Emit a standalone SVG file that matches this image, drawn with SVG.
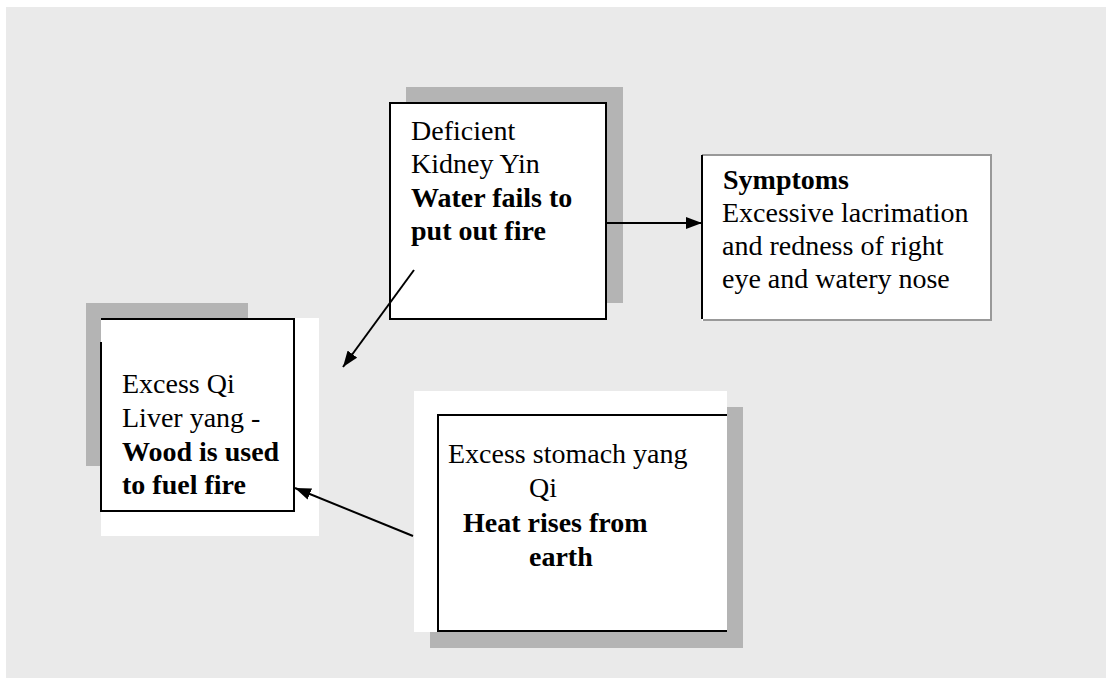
<svg xmlns="http://www.w3.org/2000/svg" width="1106" height="678" viewBox="0 0 1106 678">
<defs>
<style>
.t{font-family:"Liberation Serif","Times New Roman",serif;font-size:28px;fill:#000}
.b{font-weight:bold}
.sh{fill:#b4b4b4}
.wh{fill:#fff}
.ln{stroke:#000;stroke-width:2;fill:none}
.bx{stroke:#000;stroke-width:2;fill:#fff}
.conn{stroke:#000;stroke-width:2;fill:none}
</style>
<marker id="ah" viewBox="0 0 16 12" refX="16" refY="6" markerWidth="16" markerHeight="12" markerUnits="userSpaceOnUse" orient="auto">
<path d="M0,0 L16,6 L0,12 z" fill="#000"/>
</marker>
</defs>
<rect x="0" y="0" width="1106" height="678" fill="#fff"/>
<rect x="6" y="7" width="1100" height="671" fill="#eaeaea"/>

<g id="deficient">
<rect class="sh" x="406" y="87" width="217" height="216"/>
<rect class="bx" x="390" y="103" width="216" height="216"/>
<text class="t" x="411" y="140">Deficient</text>
<text class="t" x="411" y="173">Kidney Yin</text>
<text class="t b" x="411" y="207">Water fails to</text>
<text class="t b" x="411" y="240">put out fire</text>
</g>

<g id="symptoms">
<rect class="wh" x="702" y="155" width="290" height="166"/>
<path d="M702,155 H991 V320 H703" stroke="#999" stroke-width="2" fill="none"/>
<path d="M702,155 V319" class="ln"/>
<text class="t b" x="723" y="189">Symptoms</text>
<text class="t" x="722" y="222">Excessive lacrimation</text>
<text class="t" x="722" y="255">and redness of right</text>
<text class="t" x="722" y="288">eye and watery nose</text>
</g>

<g id="liver">
<rect class="sh" x="86" y="303" width="162" height="163"/>
<rect class="wh" x="101" y="318" width="218" height="218"/>
<path d="M101,319 H294 V511 H101 V342" class="ln"/>
<text class="t" x="122" y="393">Excess Qi</text>
<text class="t" x="122" y="427">Liver yang -</text>
<text class="t b" x="122" y="461">Wood is used</text>
<text class="t b" x="122" y="494">to fuel fire</text>
</g>

<g id="stomach">
<rect class="wh" x="414" y="391" width="313" height="241"/>
<rect class="sh" x="727" y="407" width="16" height="241"/>
<rect class="sh" x="430" y="632" width="297" height="16"/>
<path d="M727,415 H438 V631 H727" class="ln"/>
<text class="t" x="448" y="463">Excess stomach yang</text>
<text class="t" x="529" y="497">Qi</text>
<text class="t b" x="463" y="532">Heat rises from</text>
<text class="t b" x="529" y="566">earth</text>
</g>

<g id="connectors">
<line class="conn" x1="606" y1="223" x2="702" y2="223" marker-end="url(#ah)"/>
<line class="conn" x1="414" y1="270" x2="343" y2="367" marker-end="url(#ah)"/>
<line class="conn" x1="413" y1="536" x2="295" y2="488" marker-end="url(#ah)"/>
</g>
</svg>
